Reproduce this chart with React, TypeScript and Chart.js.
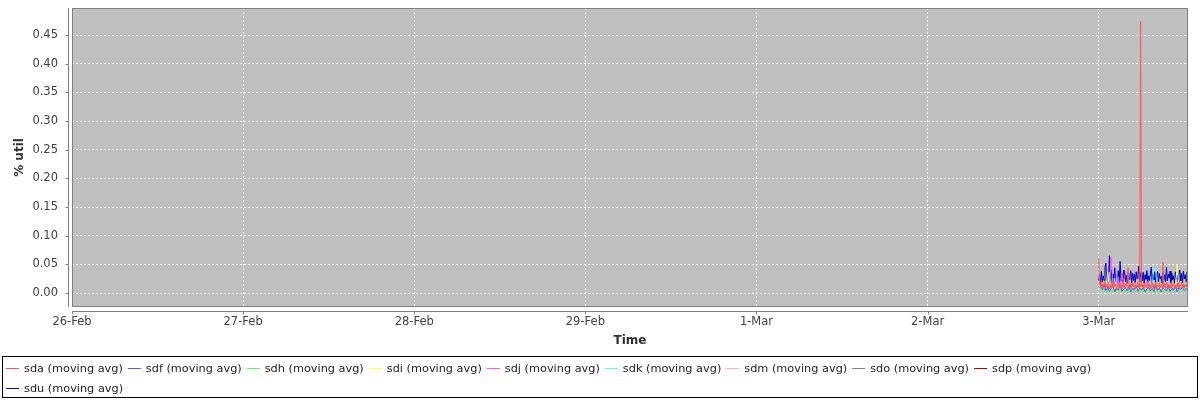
import React, { useEffect, useRef } from "react";
import { Chart, registerables } from "chart.js";
Chart.register(...registerables);

// ---- data ----
const dayLabels = ["26-Feb", "27-Feb", "28-Feb", "29-Feb", "1-Mar", "2-Mar", "3-Mar"];
const dayTickHours = [0, 24, 48, 72, 96, 120, 144];
const yTickValues = [0, 0.05, 0.1, 0.15, 0.2, 0.25, 0.3, 0.35, 0.4, 0.45];
const seriesNames = ["sda", "sdf", "sdh", "sdi", "sdj", "sdk", "sdm", "sdo", "sdp", "sdu"];
const seriesColors = ["#FF5555", "#5555FF", "#55FF55", "#FFFF55", "#FF55FF", "#55FFFF", "#FFAFAF", "#808080", "#C00000", "#0000C0"];
const sampleStartHour = 144; // 3-Mar 00:00, hours since 26-Feb 00:00
const sampleEndHour = 156.5; // 3-Mar 12:30
const axisMaxHour = 156.52;
const yMin = -0.0244;
const yMax = 0.4971;

const sda = [0.060, 0.018, 0.012, 0.022, 0.009, 0.016, 0.011, 0.020, 0.008, 0.015, 0.012, 0.019, 0.007, 0.014, 0.010, 0.017, 0.009, 0.021, 0.011, 0.015, 0.006, 0.013, 0.018, 0.010, 0.016, 0.008, 0.014, 0.011, 0.019, 0.009, 0.015, 0.012, 0.020, 0.044, 0.010, 0.016, 0.008, 0.013, 0.018, 0.011, 0.015, 0.007, 0.014, 0.012, 0.019, 0.009, 0.016, 0.474, 0.012, 0.015, 0.008, 0.017, 0.011, 0.014, 0.009, 0.020, 0.012, 0.016, 0.007, 0.013, 0.018, 0.010, 0.015, 0.011, 0.019, 0.008, 0.014, 0.012, 0.017, 0.009, 0.015, 0.011, 0.054, 0.010, 0.016, 0.008, 0.013, 0.018, 0.011, 0.015, 0.009, 0.014, 0.020, 0.010, 0.016, 0.012, 0.008, 0.015, 0.011, 0.018, 0.009, 0.014, 0.012, 0.019, 0.010, 0.016, 0.008, 0.015, 0.011, 0.017, 0.013];
const sdf = [0.030, 0.012, 0.006, 0.014, 0.004, 0.010, 0.003, 0.008, 0.012, 0.002, 0.009, 0.005, 0.013, 0.003, 0.007, 0.010, 0.004, 0.011, 0.002, 0.008, 0.006, 0.012, 0.003, 0.009, 0.005, 0.010, 0.002, 0.007, 0.011, 0.004, 0.008, 0.003, 0.012, 0.005, 0.009, 0.002, 0.010, 0.006, 0.004, 0.011, 0.003, 0.008, 0.005, 0.013, 0.002, 0.009, 0.006, 0.010, 0.004, 0.007, 0.009];
const sdh = [0.035, 0.008, 0.002, 0.005, 0.001, 0.006, 0.003, 0.009, 0.001, 0.004, 0.002, 0.007, 0.001, 0.005, 0.003, 0.002, 0.006, 0.001, 0.004, 0.008, 0.002, 0.003, 0.001, 0.006, 0.002, 0.005, 0.001, 0.004, 0.007, 0.002, 0.003, 0.001, 0.005, 0.002, 0.006, 0.001, 0.004, 0.003, 0.008, 0.001, 0.005, 0.002, 0.004, 0.001, 0.006, 0.003, 0.002, 0.005, 0.001, 0.004, 0.003];
const sdi = [0.020, 0.010, 0.006, 0.012, 0.008, 0.037, 0.009, 0.005, 0.011, 0.007, 0.013, 0.006, 0.010, 0.004, 0.009, 0.012, 0.006, 0.010, 0.005, 0.008, 0.014, 0.006, 0.009, 0.005, 0.011, 0.007, 0.004, 0.010, 0.012, 0.006, 0.009, 0.005, 0.008, 0.013, 0.006, 0.010, 0.004, 0.009, 0.007, 0.011, 0.005, 0.008, 0.012, 0.006, 0.049, 0.009, 0.005, 0.010, 0.007, 0.011, 0.008];
const sdj = [0.015, 0.008, 0.011, 0.006, 0.009, 0.012, 0.007, 0.063, 0.010, 0.006, 0.009, 0.028, 0.007, 0.035, 0.008, 0.011, 0.006, 0.009, 0.013, 0.007, 0.010, 0.005, 0.008, 0.012, 0.006, 0.009, 0.011, 0.021, 0.007, 0.010, 0.006, 0.008, 0.012, 0.005, 0.009, 0.011, 0.007, 0.015, 0.006, 0.010, 0.008, 0.012, 0.005, 0.009, 0.007, 0.011, 0.006, 0.010, 0.008, 0.009, 0.007];
const sdk = [0.018, 0.009, 0.012, 0.006, 0.010, 0.014, 0.036, 0.008, 0.011, 0.007, 0.030, 0.009, 0.006, 0.012, 0.008, 0.010, 0.005, 0.011, 0.009, 0.007, 0.013, 0.006, 0.010, 0.008, 0.012, 0.007, 0.009, 0.011, 0.006, 0.010, 0.013, 0.044, 0.038, 0.009, 0.007, 0.011, 0.008, 0.010, 0.006, 0.012, 0.009, 0.007, 0.011, 0.008, 0.010, 0.006, 0.012, 0.009, 0.007, 0.010, 0.008];
const sdm = [0.022, 0.014, 0.018, 0.011, 0.016, 0.013, 0.019, 0.010, 0.015, 0.017, 0.012, 0.016, 0.014, 0.018, 0.011, 0.015, 0.013, 0.017, 0.012, 0.016, 0.014, 0.019, 0.011, 0.015, 0.013, 0.017, 0.012, 0.016, 0.014, 0.018, 0.011, 0.015, 0.013, 0.016, 0.012, 0.017, 0.014, 0.015, 0.011, 0.016, 0.013, 0.018, 0.012, 0.015, 0.014, 0.017, 0.011, 0.016, 0.013, 0.015, 0.014];
const sdo = [0.012, 0.008, 0.010, 0.006, 0.009, 0.011, 0.007, 0.010, 0.008, 0.012, 0.006, 0.009, 0.011, 0.007, 0.010, 0.008, 0.009, 0.012, 0.006, 0.010, 0.008, 0.011, 0.007, 0.009, 0.010, 0.006, 0.011, 0.008, 0.009, 0.007, 0.012, 0.008, 0.010, 0.006, 0.009, 0.011, 0.007, 0.010, 0.008, 0.009, 0.012, 0.006, 0.010, 0.008, 0.011, 0.007, 0.009, 0.010, 0.008, 0.011, 0.009];
const sdp = [0.025, 0.016, 0.012, 0.015, 0.010, 0.013, 0.009, 0.014, 0.011, 0.016, 0.010, 0.012, 0.015, 0.009, 0.013, 0.011, 0.014, 0.010, 0.016, 0.012, 0.009, 0.013, 0.011, 0.015, 0.010, 0.012, 0.014, 0.009, 0.013, 0.011, 0.015, 0.010, 0.012, 0.014, 0.009, 0.013, 0.011, 0.016, 0.010, 0.012, 0.014, 0.009, 0.013, 0.011, 0.015, 0.010, 0.012, 0.013, 0.011, 0.014, 0.012];
const sdu = [0.020, 0.032, 0.016, 0.038, 0.019, 0.030, 0.022, 0.045, 0.052, 0.018, 0.036, 0.024, 0.065, 0.020, 0.041, 0.017, 0.033, 0.026, 0.044, 0.019, 0.030, 0.023, 0.039, 0.018, 0.055, 0.021, 0.034, 0.016, 0.040, 0.038, 0.020, 0.031, 0.017, 0.036, 0.024, 0.029, 0.039, 0.018, 0.035, 0.022, 0.033, 0.016, 0.037, 0.025, 0.030, 0.047, 0.019, 0.034, 0.038, 0.021, 0.036, 0.017, 0.032, 0.024, 0.039, 0.019, 0.030, 0.022, 0.035, 0.045, 0.018, 0.033, 0.023, 0.037, 0.016, 0.031, 0.038, 0.020, 0.034, 0.025, 0.029, 0.017, 0.036, 0.022, 0.032, 0.019, 0.045, 0.021, 0.033, 0.026, 0.038, 0.018, 0.035, 0.023, 0.030, 0.017, 0.037, 0.024, 0.031, 0.019, 0.036, 0.040, 0.021, 0.034, 0.018, 0.038, 0.025, 0.032, 0.020, 0.036, 0.028];

const seriesValues = [sda, sdf, sdh, sdi, sdj, sdk, sdm, sdo, sdp, sdu];

const FONT = "'DejaVu Sans', sans-serif";

const plotBgPlugin = {
  id: "plotBg",
  beforeDraw(chart: any) {
    const { ctx, chartArea: a } = chart;
    ctx.save();
    ctx.fillStyle = "#ffffff";
    ctx.fillRect(0, 0, chart.width, chart.height);
    ctx.fillStyle = "#C0C0C0";
    ctx.fillRect(a.left, a.top, a.right - a.left, a.bottom - a.top);
    ctx.restore();
  },
  afterDatasetsDraw(chart: any) {
    const { ctx, chartArea: a, scales } = chart;
    ctx.save();
    ctx.strokeStyle = "#808080";
    ctx.lineWidth = 1;
    ctx.strokeRect(a.left + 0.5, a.top + 0.5, a.right - a.left - 1, a.bottom - a.top - 1);
    const ax = a.left - 4 + 0.5;
    ctx.beginPath();
    ctx.moveTo(ax, a.top);
    ctx.lineTo(ax, a.bottom);
    scales.y.ticks.forEach((t: any) => {
      const py = Math.round(scales.y.getPixelForValue(t.value)) + 0.5;
      ctx.moveTo(ax - 3, py);
      ctx.lineTo(ax, py);
    });
    const ay = a.bottom + 4 + 0.5;
    ctx.moveTo(a.left, ay);
    ctx.lineTo(a.right, ay);
    scales.x.ticks.forEach((t: any) => {
      const px = Math.round(scales.x.getPixelForValue(t.value)) + 0.5;
      ctx.moveTo(px, ay);
      ctx.lineTo(px, ay + 3);
    });
    ctx.stroke();
    ctx.restore();
  },
};

const boxLegendPlugin = {
  id: "boxLegend",
  afterDraw(chart: any) {
    const { ctx } = chart;
    const left = 2, top = 356, right = 1197, bottom = 397;
    ctx.save();
    ctx.strokeStyle = "#000000";
    ctx.lineWidth = 1;
    ctx.strokeRect(left + 0.5, top + 0.5, right - left, bottom - top);
    ctx.font = `11.3px ${FONT}`;
    ctx.textBaseline = "middle";
    ctx.textAlign = "left";
    let x = 6;
    let rowY = 368;
    chart.data.datasets.forEach((ds: any) => {
      const w = ctx.measureText(ds.label).width;
      const itemW = 18 + w + 5;
      if (x + itemW > right - 2) {
        x = 6;
        rowY += 20;
      }
      ctx.strokeStyle = ds.borderColor;
      ctx.beginPath();
      ctx.moveTo(x, rowY + 0.5);
      ctx.lineTo(x + 13, rowY + 0.5);
      ctx.stroke();
      ctx.fillStyle = "#222222";
      ctx.fillText(ds.label, x + 18, rowY + 1);
      x += itemW;
    });
    ctx.restore();
  },
};

export default function App() {
  const ref = useRef<HTMLCanvasElement>(null);
  useEffect(() => {
    document.body.style.margin = "0";
    const datasets = seriesValues.map((vals, k) => {
      const step = (sampleEndHour - sampleStartHour) / (vals.length - 1);
      return {
        label: `${seriesNames[k]} (moving avg)`,
        data: vals.map((y, i) => ({ x: sampleStartHour + i * step, y })),
        borderColor: seriesColors[k],
        backgroundColor: seriesColors[k],
        borderWidth: 1,
        pointRadius: 0,
        tension: 0,
        fill: false,
      };
    });
    const chart = new Chart(ref.current as HTMLCanvasElement, {
      type: "line",
      data: { datasets },
      options: {
        animation: false,
        responsive: false,
        maintainAspectRatio: false,
        devicePixelRatio: 1,
        layout: { padding: { left: 0, top: 8, right: 12, bottom: 50 } },
        plugins: { legend: { display: false }, tooltip: { enabled: false } },
        scales: {
          x: {
            type: "linear",
            min: 0,
            max: axisMaxHour,
            afterBuildTicks(scale: any) {
              scale.ticks = dayTickHours.map((v) => ({ value: v }));
            },
            afterFit(scale: any) {
              scale.height = 43;
              scale.paddingLeft = 0;
              scale.paddingRight = 0;
            },
            ticks: {
              autoSkip: false,
              maxRotation: 0,
              padding: 8,
              color: "#404040",
              font: { family: FONT, size: 11.5 },
              callback: (v: any) => {
                const idx = dayTickHours.indexOf(Number(v));
                return idx >= 0 ? dayLabels[idx] : "";
              },
            },
            grid: { color: "rgba(255,255,255,0.85)", lineWidth: 1, drawTicks: false },
            border: { display: false, dash: [2, 2] },
            title: {
              display: true,
              text: "Time",
              color: "#303030",
              font: { family: FONT, size: 12, weight: "bold" },
              padding: { top: 0, bottom: 2 },
            },
          },
          y: {
            type: "linear",
            min: yMin,
            max: yMax,
            afterBuildTicks(scale: any) {
              scale.ticks = yTickValues.map((v) => ({ value: v }));
            },
            afterFit(scale: any) {
              scale.width = 72;
              scale.paddingTop = 0;
              scale.paddingBottom = 0;
            },
            ticks: {
              padding: 14,
              color: "#404040",
              font: { family: FONT, size: 11.5 },
              callback: (v: any) => Number(v).toFixed(2),
            },
            grid: { color: "rgba(255,255,255,0.85)", lineWidth: 1, drawTicks: false },
            border: { display: false, dash: [2, 2] },
            title: {
              display: true,
              text: "% util",
              color: "#303030",
              font: { family: FONT, size: 12, weight: "bold" },
              padding: { top: 13, bottom: 0 },
            },
          },
        },
      } as any,
      plugins: [plotBgPlugin, boxLegendPlugin],
    });
    return () => chart.destroy();
  }, []);
  return (
    <div style={{ width: 1200, height: 400, position: "relative" }}>
      <canvas ref={ref} width={1200} height={400} style={{ display: "block" }} />
    </div>
  );
}
